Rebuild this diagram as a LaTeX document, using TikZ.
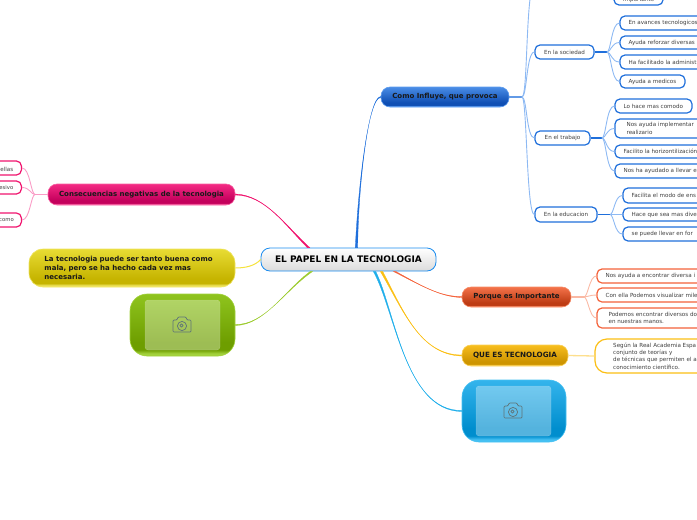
\documentclass[tikz,border=0pt]{standalone}
\usepackage{fontspec}
\setmainfont{DejaVu Sans}
\definecolor{cblue}{HTML}{1F6FDB}
\definecolor{lblue}{HTML}{8DB9F3}
\definecolor{cpink}{HTML}{F0146E}
\definecolor{lpink}{HTML}{FA9CC6}
\definecolor{corange}{HTML}{F4623A}
\definecolor{lorange}{HTML}{FAB9A4}
\definecolor{camber}{HTML}{FBBF14}
\definecolor{lamber}{HTML}{FDDF8E}
\definecolor{cyel}{HTML}{F5E23C}
\definecolor{cgreen}{HTML}{9CCB2E}
\definecolor{ccyan}{HTML}{1FAEEA}
\definecolor{icon}{HTML}{5F7478}
\newcommand\defshade[4]{%
  \definecolor{#1t}{HTML}{#2}\definecolor{#1d}{HTML}{#3}\definecolor{#1r}{HTML}{#4}%
  \pgfdeclareverticalshading{#1}{100bp}{color(0bp)=(#1r); color(27bp)=(#1r); color(30bp)=(#1d); color(36bp)=(#1d); color(75bp)=(#1t); color(100bp)=(#1t)}}
\defshade{gblue}{4A8DE6}{0F4FB4}{5C9BEE}
\defshade{gpink}{F42A84}{C4005C}{F55FA0}
\defshade{gorange}{F4734A}{BE3C14}{F58A66}
\defshade{gamber}{F8BE1E}{CE9500}{F9CF55}
\defshade{gyel}{E8DC34}{C6B400}{EFE460}
\defshade{ggreen}{8FC41E}{6E9E00}{A2D13C}
\defshade{gcyan}{34B4EC}{008ECE}{45C0F2}
\tikzset{
  x=1pt,y=-1pt,
  leaf/.style={draw=#1,line width=1.2pt,rounded corners=5pt,fill=white,inner xsep=0pt,inner ysep=0pt,font=\fontsize{5.6}{7.2}\selectfont,text=black!75},
  leaftext/.style={font=\fontsize{5.6}{7.2}\selectfont,text=black!75,inner sep=0pt},
  mainbox/.style 2 args={draw=#1,line width=.6pt,rounded corners=9pt,shade,shading=#2,inner sep=0pt,font=\bfseries\fontsize{7}{9}\selectfont,text=black!90},
  imagebox/.style 2 args={draw=#1,line width=.6pt,rounded corners=17pt,shade,shading=#2,minimum width=104pt,minimum height=62pt,inner sep=0pt},
  imagepanel/.style={fill=white,fill opacity=.33,draw=white,draw opacity=.25,rounded corners=3pt,minimum width=75pt,minimum height=50pt,inner sep=0pt},
  thin link/.style={draw=#1,line width=.9pt},
  stub/.style={draw=#1,line width=1.8pt},
  icon line/.style={draw=icon,line width=.7pt,line join=round},
}
% name, colour, left, top, right, bottom, text
\newcommand\leafnode[7]{%
  \pgfmathsetmacro\mycx{(#3+#5)/2}\pgfmathsetmacro\mycy{(#4+#6)/2}%
  \pgfmathsetmacro\myw{#5-#3}\pgfmathsetmacro\myh{#6-#4}%
  \node[leaf=#2,minimum width=\myw pt,minimum height=\myh pt] (#1) at (\mycx,\mycy) {};%
  \node[leaftext,anchor=west,align=left] (#1t) at ([xshift=9pt]#1.west) {#7};%
}
\newcommand\midnode[7]{%
  \pgfmathsetmacro\mycx{(#3+#5)/2}\pgfmathsetmacro\mycy{(#4+#6)/2}%
  \pgfmathsetmacro\myw{#5-#3}\pgfmathsetmacro\myh{#6-#4}%
  \node[leaf=#2,minimum width=\myw pt,minimum height=\myh pt,align=center] (#1) at (\mycx,\mycy) {#7};%
}
% colour, start x-shift on root, root anchor, control 1, control 2, end
\newcommand\taper[6]{%
  \draw[#1,fill=#1,line width=.3pt] ([xshift=#2pt-1.2pt]root.#3) .. controls (#4) and (#5) .. ([yshift=-.5pt]#6) -- ([yshift=.5pt]#6) .. controls (#5) and (#4) .. ([xshift=#2pt+1.2pt]root.#3) -- cycle;}
\newcommand\camicon[1]{%
  \begin{scope}[shift={(#1)}]
    \draw[icon line,rounded corners=1pt] (-9,-5) -- (-5,-5) -- (-4,-8) -- (4,-8) -- (5,-5) -- (9,-5) -- (9,7) -- (-9,7) -- cycle;
    \draw[icon line] (0,1) circle (4.6pt);
    \draw[icon line] (-.5,.5) circle (1.6pt);
  \end{scope}}
\begin{document}
\begin{tikzpicture}
\useasboundingbox (0,0) rectangle (697,520);
\clip (0,0) rectangle (697,520);

\node[draw=ccyan!80!blue,line width=.8pt,rounded corners=9pt,top color=white,bottom color=black!14,minimum width=175pt,minimum height=23pt,inner sep=0pt,font=\bfseries\fontsize{9}{11}\selectfont] (root) at (348.5,259.5) {EL PAPEL EN LA TECNOLOGIA};
\node[mainbox={gbluer}{gblue},minimum width=128pt,minimum height=20pt] (como) at (445,97) {Como Influye, que provoca};
\node[mainbox={goranger}{gorange},minimum width=109pt,minimum height=20pt] (porque) at (516.5,297) {Porque es Importante};
\node[mainbox={gamberr}{gamber},minimum width=106pt,minimum height=21pt,font=\bfseries\fontsize{7.2}{9}\selectfont] (que) at (515,355.5) {QUE ES TECNOLOGIA};
\node[mainbox={gpinkr}{gpink},minimum width=187pt,minimum height=21pt] (cons) at (141.5,194.5) {Consecuencias negativas de la tecnologia};
\node[mainbox={gyelr}{gyel},minimum width=206pt,minimum height=38pt,rounded corners=14pt,align=left,text width=175pt,font=\bfseries\fontsize{7}{9.2}\selectfont] (nota) at (132,268) {La tecnologia puede ser tanto buena como\\mala, pero se ha hecho cada vez mas\\necesaria.};
\node[imagebox={ggreenr}{ggreen},minimum width=105pt] (img1) at (182.5,325) {};
\node[imagebox={gcyanr}{gcyan}] (img2) at (514,411) {};

% first level connectors
\taper{cblue}{8}{north}{358,190}{368,97}{como.west}
\taper{corange}{46}{south}{420,285}{440,297}{porque.west}
\taper{camber}{33}{south}{403,310}{420,355}{que.west}
\taper{ccyan}{26}{south}{395,310}{405,411}{img2.west}
\taper{cpink}{-40}{north}{285,225}{265,195}{cons.east}
\draw[draw=cyel,line width=1pt] (root.west) .. controls (255,266) and (245,268) .. (nota.east);
\taper{cgreen}{-37}{south}{285,290}{265,325}{img1.east}

% image panels
\node[imagepanel] (pan1) at (182.5,325) {};
\node[imagepanel] (pan2) at (513.5,411) {};
\camicon{182,325}
\camicon{513,411}

% blue branch
\coordinate (fc) at (522,97);
\coordinate (top) at (531,-8);
\midnode{soc}{cblue}{535}{45}{594}{59}{En la sociedad}
\midnode{tra}{cblue}{535}{131}{590}{145}{En el trabajo}
\midnode{edu}{cblue}{535}{207}{597}{222}{En la educacion}
\draw[stub=cblue!70!white] (como.east) -- (fc);
\draw[thin link=lblue] (fc) .. controls +(5,0) and +(-5,30) .. (top);
\foreach \t in {soc,tra,edu} \draw[thin link=lblue] (fc) .. controls +(5,0) and +(-8,0) .. (\t.west);

\coordinate (fs) at (607,52);
\coordinate (ft) at (602,138);
\coordinate (fe) at (610,214.5);
\draw[stub=cblue] (soc.east) -- (fs);
\draw[stub=cblue] (tra.east) -- (ft);
\draw[stub=cblue] (edu.east) -- (fe);

\leafnode{a0}{cblue}{614}{-12}{663}{5}{}
\node[leaftext,anchor=base west] (a0t) at (623,1) {importante};
\leafnode{a1}{cblue}{620}{16}{760}{30}{En avances tecnologicos}
\leafnode{a2}{cblue}{620}{36}{760}{49}{Ayuda reforzar diversas}
\leafnode{a3}{cblue}{620}{55}{760}{69}{Ha facilitado la administ}
\leafnode{a4}{cblue}{620}{75}{685}{88}{Ayuda a medicos}
\leafnode{b1}{cblue}{615}{99}{692}{113}{Lo hace mas comodo}
\leafnode{b2}{cblue}{615}{119}{760}{138}{\hspace*{3pt}Nos ayuda implementar\\\hspace*{3pt}realizario}
\leafnode{b3}{cblue}{615}{145}{760}{158}{Facilito la horizontilización}
\leafnode{b4}{cblue}{615}{164}{760}{178}{Nos ha ayudado a llevar e}
\leafnode{c1}{cblue}{623}{188}{760}{203}{Facilita el modo de ens}
\leafnode{c2}{cblue}{623}{208}{760}{221}{Hace que sea mas dive}
\leafnode{c3}{cblue}{623}{227}{760}{241}{se puede llevar en for}

\foreach \t in {a1,a2,a3,a4} \draw[thin link=lblue] (fs) .. controls +(4,0) and +(-8,0) .. (\t.west);
\foreach \t in {b1,b2,b3,b4} \draw[thin link=lblue] (ft) .. controls +(4,0) and +(-8,0) .. (\t.west);
\foreach \t in {c1,c2,c3} \draw[thin link=lblue] (fe) .. controls +(4,0) and +(-8,0) .. (\t.west);

% orange branch
\coordinate (fp) at (584,297);
\draw[stub=lorange] (porque.east) -- (fp);
\leafnode{p1}{corange}{597}{269}{760}{283}{Nos ayuda a encontrar diversa i}
\leafnode{p2}{corange}{597}{288}{760}{302}{Con ella Podemos visualizar mile}
\leafnode{p3}{corange}{597}{308}{760}{328}{\hspace*{3pt}Podemos encontrar diversos do\\\hspace*{3pt}en nuestras manos.}
\foreach \t in {p1,p2,p3} \draw[thin link=lorange] (fp) .. controls +(4,0) and +(-7,0) .. (\t.west);

% amber branch
\node[leaf=camber,minimum width=200pt,minimum height=34pt,rounded corners=12pt] (q1) at (695,356) {};
\node[leaftext,anchor=west,align=left] (q1t) at (613,356) {Según la Real Academia Espa\\conjunto de teorías y\\de técnicas que permiten el a\\conocimiento científico.};
\draw[stub=lamber,line width=1.3pt] (que.east) -- (q1.west);

% pink branch
\coordinate (fn) at (35,194.5);
\draw[stub=lpink] (cons.west) -- (fn);
\node[leaf=cpink,minimum width=62pt,minimum height=14pt,anchor=east] (n1) at (22,168) {};
\node[leaf=cpink,minimum width=62pt,minimum height=13pt,anchor=east] (n2) at (22,187.5) {};
\node[leaf=cpink,minimum width=62pt,minimum height=14pt,anchor=east] (n3) at (22,220) {};
\node[leaftext,anchor=east] (n1t) at (13.5,169) {ellas};
\node[leaftext,anchor=east,font=\fontsize{5.3}{7}\selectfont] (n2t) at (13.5,188) {esivo};
\node[leaftext,anchor=east,font=\fontsize{5.3}{7}\selectfont] (n3t) at (14,220) {como};
\foreach \t in {n1,n2,n3} \draw[thin link=lpink] (fn) .. controls +(-4,0) and +(8,0) .. (\t.east);
\end{tikzpicture}
\end{document}
